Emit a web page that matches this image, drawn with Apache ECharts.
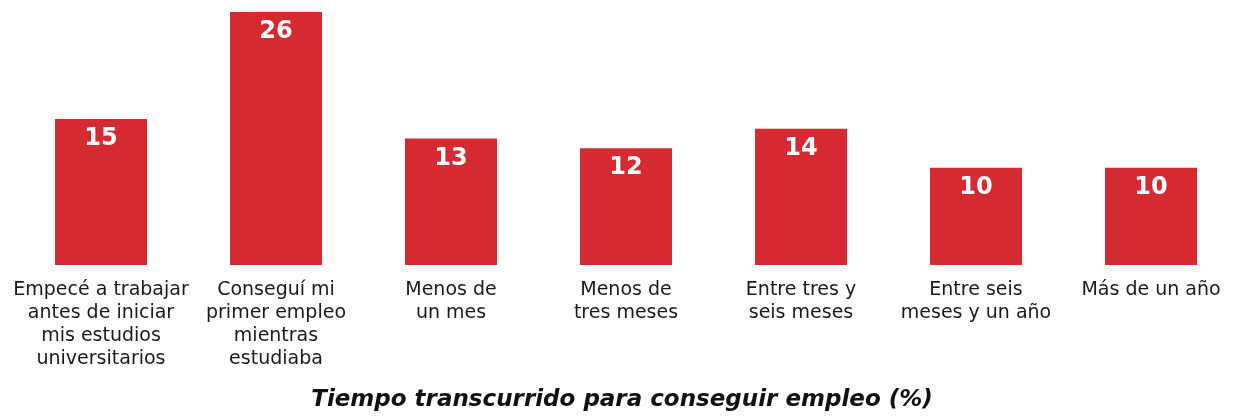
<!DOCTYPE html>
<html>
<head>
<meta charset="utf-8">
<script src="https://cdn.jsdelivr.net/npm/echarts@6/dist/echarts.min.js"></script>
<style>
html,body{margin:0;padding:0;background:#fff;}
#chart{width:1244px;height:416px;}
</style>
</head>
<body>
<div id="chart"></div>
<script>
const categories = [
  "Empecé a trabajar\nantes de iniciar\nmis estudios\nuniversitarios",
  "Conseguí mi\nprimer empleo\nmientras\nestudiaba",
  "Menos de\nun mes",
  "Menos de\ntres meses",
  "Entre tres y\nseis meses",
  "Entre seis\nmeses y un año",
  "Más de un año"
];
const values = [15, 26, 13, 12, 14, 10, 10];
const axisTitle = "Tiempo transcurrido para conseguir empleo (%)";

const chart = echarts.init(document.getElementById('chart'), null, {renderer: 'canvas'});
chart.setOption({
  animation: false,
  backgroundColor: '#ffffff',
  title: {
    text: axisTitle,
    left: 'center',
    top: 384,
    textStyle: {
      fontFamily: 'DejaVu Sans, sans-serif',
      fontStyle: 'italic',
      fontWeight: 'bold',
      fontSize: 23,
      color: '#111111'
    }
  },
  grid: {left: 13.5, right: 5.5, top: 12, bottom: 151, containLabel: false},
  xAxis: {
    type: 'category',
    data: categories,
    axisLine: {show: false},
    axisTick: {show: false},
    axisLabel: {
      interval: 0,
      margin: 14,
      fontFamily: 'DejaVu Sans, sans-serif',
      fontSize: 19,
      lineHeight: 23,
      color: '#1a1a1a',
      verticalAlign: 'top'
    }
  },
  yAxis: {
    type: 'value',
    min: 0,
    max: 26,
    show: false,
    splitLine: {show: false}
  },
  series: [{
    type: 'bar',
    data: values,
    barWidth: 92,
    itemStyle: {color: '#d62a32'},
    label: {
      show: true,
      position: 'insideTop',
      distance: 8,
      color: '#ffffff',
      fontFamily: 'DejaVu Sans, sans-serif',
      fontWeight: 'bold',
      fontSize: 24
    }
  }]
});
</script>
</body>
</html>
